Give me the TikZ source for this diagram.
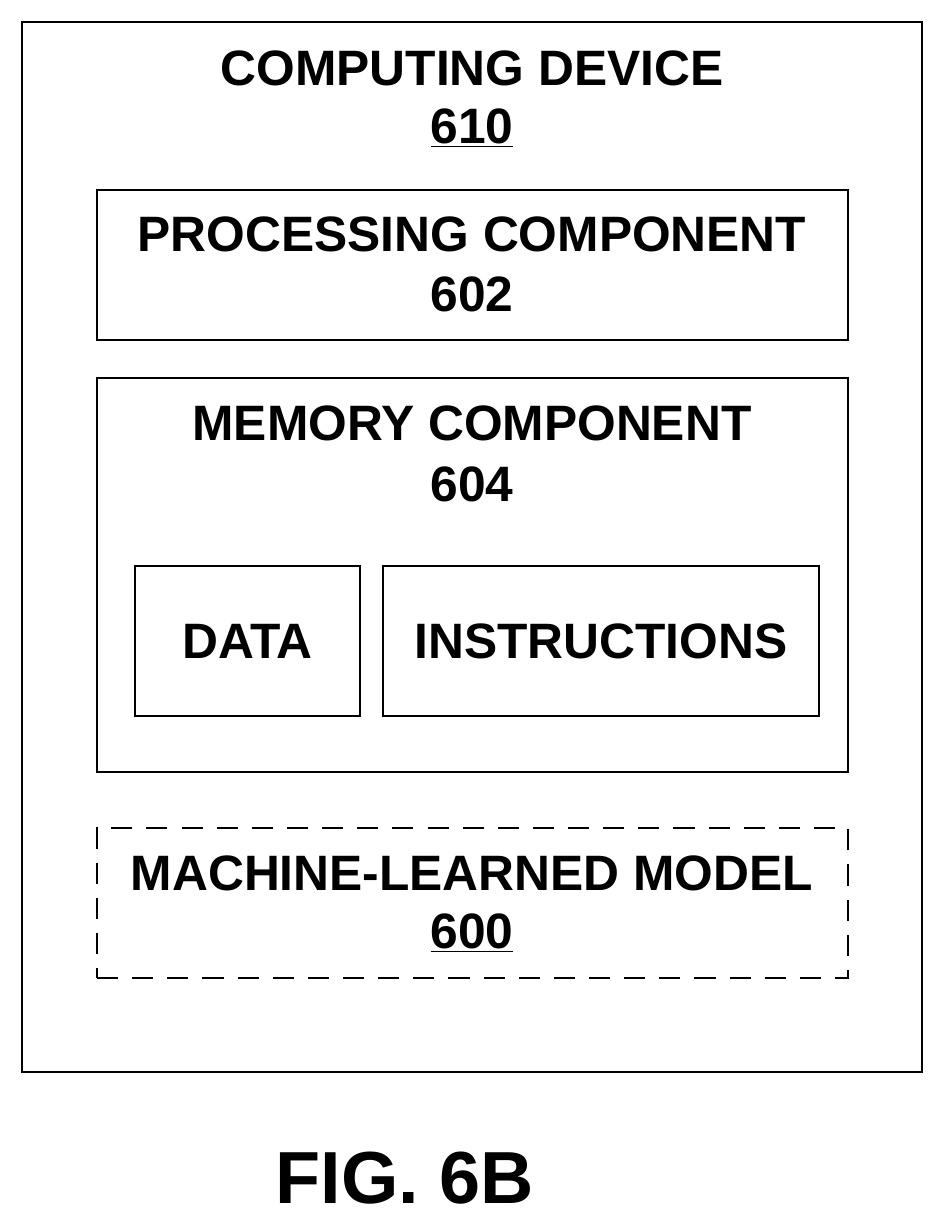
\documentclass[tikz,border=0pt]{standalone}
\usepackage{fontspec}
\setmainfont{Liberation Sans}
\usetikzlibrary{positioning}
\tikzset{
    box/.style = {
        draw,
        shape=rectangle,
        line width=1.3pt,
        inner sep=0pt
    },
    dbox/.style = {
        box,
        dash pattern=on 12pt off 8pt
    },
    lbl/.style = {
        font=\bfseries\fontsize{28.3}{33}\selectfont,
        align=center,
        inner sep=0pt
    }
}
\begin{document}
\begin{tikzpicture}[x=0.02cm, y=-0.02cm]
        \useasboundingbox (0,0) rectangle (945,1225);
        \node[box, minimum width=18cm, minimum height=21cm] (device) at (472,547) {};
        \node[box, minimum width=15.02cm, minimum height=3cm] (proc) at (472.5,265) {};
        \node[box, minimum width=15.02cm, minimum height=7.88cm] (mem) at (472.5,575) {};
        \node[box, minimum width=4.5cm, minimum height=3cm] (data) at (247.5,641) {};
        \node[box, minimum width=8.72cm, minimum height=3cm] (instr) at (601,641) {};
        \node[dbox, minimum width=15.02cm, minimum height=3cm] (model) at (472.5,903) {};

        \node[lbl] (devtitle) at (472,68) {COMPUTING DEVICE};
        \node[lbl] (devnum) at (472,128) {\underline{610}};
        \node[lbl] (proctitle) at (472,234) {PROCESSING COMPONENT};
        \node[lbl] (procnum) at (472,294) {602};
        \node[lbl] (memtitle) at (472,423) {MEMORY COMPONENT};
        \node[lbl] (memnum) at (472,484) {604};
        \node[lbl] at (data.center) {DATA};
        \node[lbl] at (instr.center) {INSTRUCTIONS};
        \node[lbl] (modeltitle) at (472,873) {MACHINE-LEARNED MODEL};
        \node[lbl] (modelnum) at (472,933) {\underline{600}};

        \node[font=\bfseries\fontsize{42}{48}\selectfont, inner sep=0pt] (fig) at (405,1178) {FIG. 6B};
    \end{tikzpicture}
\end{document}
